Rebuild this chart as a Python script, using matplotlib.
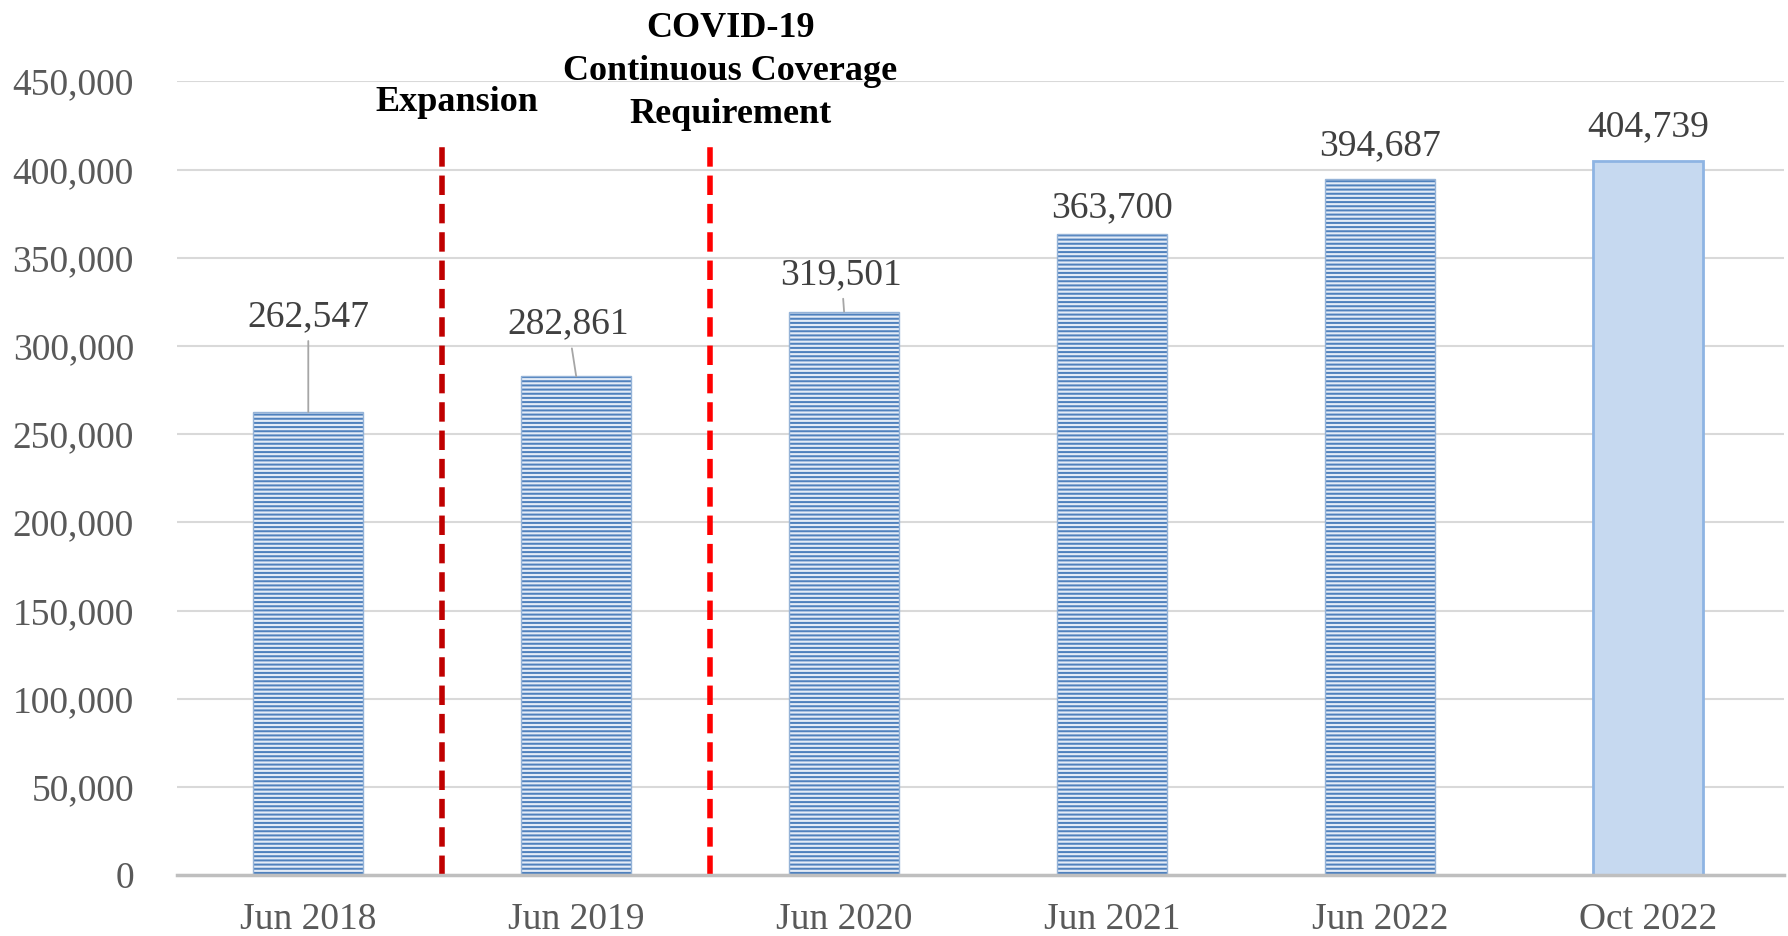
import matplotlib.pyplot as plt
import numpy as np

plt.rcParams['font.family'] = ['Liberation Serif', 'DejaVu Serif']
plt.rcParams['hatch.linewidth'] = 1.45

# data
months = ['Jun 2018', 'Jun 2019', 'Jun 2020', 'Jun 2021', 'Jun 2022', 'Oct 2022']
enrollment = [262547, 282861, 319501, 363700, 394687, 404739]
# label placement (x shift in categories, y shift above bar) and whether a leader line is drawn
label_dx = [0.0, -0.03, -0.01, 0.0, 0.0, 0.0]
label_dy = [54000, 29500, 21000, 14500, 19000, 19500]
leader = [True, True, True, False, False, False]

events = ['Expansion', 'COVID-19\nContinuous Coverage\nRequirement']
event_pos = [0.5, 1.5]
event_colors = ['#C00000', '#FF0000']
event_top = 413800

fig = plt.figure(figsize=(17.88, 9.36), dpi=100)
ax = fig.add_axes([0.099, 0.065, 0.899, 0.848])

x = np.arange(len(months))
for i, v in enumerate(enrollment):
    if i < len(months) - 1:
        ax.bar(x[i], v, width=0.41, color='#E4ECF7', edgecolor='#4F81BD',
               hatch='----', linewidth=0, zorder=2)
        ax.bar(x[i], v, width=0.41, fill=False, edgecolor='#95B3D7',
               linewidth=1.0, zorder=3)
    else:
        ax.bar(x[i], v, width=0.41, color='#C6D9F0', edgecolor='#8EB4E3',
               linewidth=2.0, zorder=2)

for i, v in enumerate(enrollment):
    ty = v + label_dy[i]
    tx = x[i] + label_dx[i]
    if leader[i]:
        ax.annotate(f'{v:,}', xy=(x[i], v), xytext=(tx, ty),
                    ha='center', va='center', fontsize=27, color='#404040',
                    arrowprops=dict(arrowstyle='-', color='#A6A6A6', lw=1.3,
                                    shrinkA=3, shrinkB=0))
    else:
        ax.text(tx, ty, f'{v:,}', ha='center', va='center', fontsize=27,
                color='#404040')

for name, pos, col in zip(events, event_pos, event_colors):
    ax.plot([pos, pos], [0, event_top], color=col, lw=4, ls=(0, (3.5, 1.6)),
            zorder=4, clip_on=False)

ax.text(0.555, 438000, events[0], ha='center', va='center', fontsize=26,
        fontweight='bold', color='black', clip_on=False)
ax.text(1.575, 455500, events[1], ha='center', va='center', fontsize=26,
        fontweight='bold', color='black', linespacing=1.4, clip_on=False)

ax.set_xlim(-0.49, 5.51)
ax.set_ylim(0, 450000)
ax.set_yticks(np.arange(0, 450001, 50000))
ax.set_yticklabels([f'{t:,}' for t in range(0, 450001, 50000)])
ax.set_xticks(x)
ax.set_xticklabels(months)
ax.tick_params(axis='both', length=0, labelsize=27, labelcolor='#595959')
ax.tick_params(axis='x', pad=20)
ax.tick_params(axis='y', pad=31)
ax.grid(axis='y', color='#D9D9D9', lw=1.5, zorder=0)
ax.set_axisbelow(True)
for s in ['top', 'right', 'left']:
    ax.spines[s].set_visible(False)
ax.spines['bottom'].set_color('#BFBFBF')
ax.spines['bottom'].set_linewidth(2.5)
ax.spines['bottom'].set_zorder(5)

fig.savefig('out.png', dpi=100)
